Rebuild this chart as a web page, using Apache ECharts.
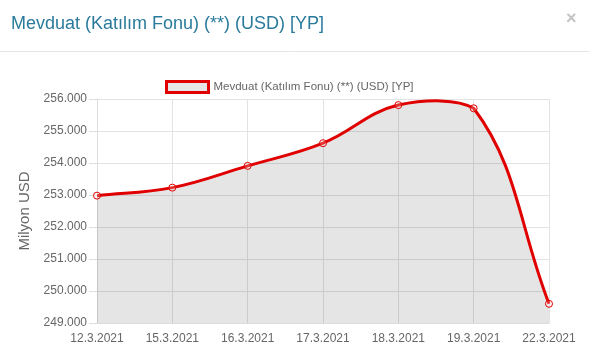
<!DOCTYPE html>
<html><head><meta charset="utf-8">
<script src="https://cdn.jsdelivr.net/npm/echarts@6/dist/echarts.min.js"></script>
<style>html,body{margin:0;padding:0;background:#fff;}#c{width:589px;height:358px;}</style>
</head><body><div id="c"></div>
<script>
var categories = ['12.3.2021','15.3.2021','16.3.2021','17.3.2021','18.3.2021','19.3.2021','22.3.2021'];
var values = [252980, 253230, 253910, 254620, 255810, 255710, 249600];
var seriesName = 'Mevduat (Katılım Fonu) (**) (USD) [YP]';
var titleText = 'Mevduat (Katılım Fonu) (**) (USD) [YP]';
var yAxisName = 'Milyon USD';
var yMin = 249000, yMax = 256000, yStep = 1000;

function fmt(v){ return String(Math.round(v)).replace(/\B(?=(\d{3})+(?!\d))/g, '.'); }
var FONT = 'Liberation Sans, Arial, sans-serif';
var RED = '#e00000';
var TENSION = 0.4;

function splinePath(pts, top, bottom){
  var cps = pts.map(function(p, i){
    var prev = pts[i-1] || p, next = pts[i+1] || p;
    var d01 = Math.hypot(p[0]-prev[0], p[1]-prev[1]);
    var d12 = Math.hypot(next[0]-p[0], next[1]-p[1]);
    var s01 = d01/(d01+d12) || 0, s12 = d12/(d01+d12) || 0;
    var fa = TENSION*s01, fb = TENSION*s12;
    function cap(y){ return Math.max(top, Math.min(bottom, y)); }
    return {
      pr: [p[0]-fa*(next[0]-prev[0]), cap(p[1]-fa*(next[1]-prev[1]))],
      nx: [p[0]+fb*(next[0]-prev[0]), cap(p[1]+fb*(next[1]-prev[1]))]
    };
  });
  var d = 'M' + pts[0][0] + ' ' + pts[0][1];
  for (var i = 1; i < pts.length; i++){
    var a = cps[i-1].nx, b = cps[i].pr;
    d += ' C' + a[0] + ' ' + a[1] + ' ' + b[0] + ' ' + b[1] + ' ' + pts[i][0] + ' ' + pts[i][1];
  }
  return d;
}

var chart = echarts.init(document.getElementById('c'));
chart.setOption({
  animation: false,
  textStyle: {fontFamily: FONT},
  title: {text: titleText, left: 6, top: 10, textStyle: {fontSize: 18, fontWeight: 'normal', color: '#2a7b9b', fontFamily: FONT}},
  graphic: [
    {type: 'line', shape: {x1: 0, y1: 51.5, x2: 589, y2: 51.5}, style: {stroke: '#e5e5e5', lineWidth: 1}},
    {type: 'text', left: 566, top: 10, style: {text: '×', fontSize: 18, fill: '#c4c4c4', fontWeight: 'bold', fontFamily: FONT}}
  ],
  legend: {top: 75, left: 160, itemWidth: 42, itemHeight: 11, itemGap: 5,
    textStyle: {fontSize: 11.5, color: '#666'},
    data: [{name: seriesName, icon: 'rect', itemStyle: {color: '#e6e6e6', borderColor: RED, borderWidth: 3}}]},
  grid: {left: 97, right: 40, top: 99, bottom: 35},
  xAxis: {type: 'category', data: categories, boundaryGap: false,
    axisLine: {lineStyle: {color: '#ddd'}}, axisTick: {show: false},
    axisLabel: {color: '#666', fontSize: 12, margin: 10},
    splitLine: {show: true, lineStyle: {color: '#e3e3e3'}}},
  yAxis: {type: 'value', min: yMin, max: yMax, interval: yStep,
    name: yAxisName, nameLocation: 'middle', nameGap: 64, nameTextStyle: {fontSize: 15, color: '#666'},
    axisLine: {show: true, lineStyle: {color: '#ddd'}}, axisTick: {show: true, length: 8, lineStyle: {color: '#ddd'}},
    axisLabel: {color: '#666', fontSize: 12, margin: 10, formatter: fmt},
    splitLine: {show: true, lineStyle: {color: '#e3e3e3'}}},
  series: [
    {name: 'curve', type: 'custom', data: values.map(function(v, i){ return [i, v]; }),
      encode: {x: 0, y: 1}, z: 2,
      renderItem: function(params, api){
        if (params.dataIndex !== 0) return null;
        var pts = values.map(function(v, i){ return api.coord([i, v]); });
        var top = api.coord([0, yMax])[1];
        var base = api.coord([0, yMin])[1];
        var line = splinePath(pts, top, base);
        var area = line + ' L' + pts[pts.length-1][0] + ' ' + base + ' L' + pts[0][0] + ' ' + base + ' Z';
        return {type: 'group', children: [
          {type: 'path', shape: {pathData: area}, style: {fill: 'rgba(0,0,0,0.1)', stroke: null}},
          {type: 'path', shape: {pathData: line}, style: {fill: null, stroke: RED, lineWidth: 3}}
        ]};
      }
    },
    {name: seriesName, type: 'line', data: values, z: 3,
      symbol: 'circle', symbolSize: 7,
      itemStyle: {color: 'rgba(255,255,255,0.2)', borderColor: RED, borderWidth: 1},
      lineStyle: {width: 0, opacity: 0}}
  ]
});
</script></body></html>
